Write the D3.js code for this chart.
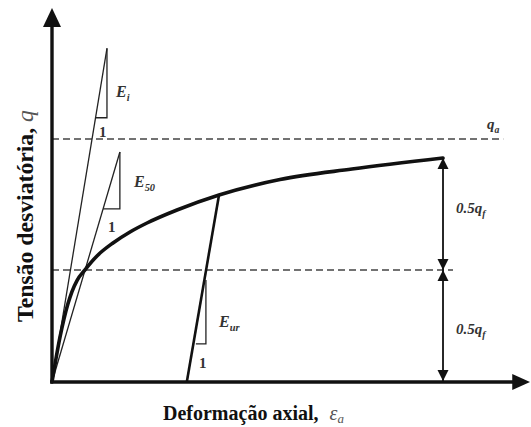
<!DOCTYPE html>
<html><head><meta charset="utf-8">
<script src="https://cdn.jsdelivr.net/npm/d3@7"></script>
<style>html,body{margin:0;padding:0;background:#fff;}svg{display:block;}</style>
</head><body>
<svg id="chart" width="531" height="427"></svg>
<script>
// ---- data (axial strain in arbitrary units, deviatoric stress in % of q_f) ----
const curveStrain = [0, 0.84, 1.67, 2.51, 3.35, 4.18, 5.23, 6.90, 9.41, 12.76, 16.32, 19.87, 26.15, 34.94, 47.70, 62.76, 81.80];
const curveStress = [0, 10.5, 20.0, 28.2, 35.0, 40.4, 45.3, 50.1, 56.3, 62.1, 67.0, 71.0, 76.8, 83.5, 90.4, 95.1, 100];
const qf = 100, qa = 108.5, halfQf = 50;
const dimX = 81.8;            // strain where the failure stress is reached
const qaLineEnd = 94.4, halfLineEnd = 83.9;
const EiLine = [[0, 0], [11.5, 149]];
const EiTri = [[9.2, 118], [11.5, 118], [11.5, 149]];
const E50Line = [[0, 0], [14.2, 102.7]];
const E50Tri = [[10.7, 77.3], [14.2, 77.3], [14.2, 102.7]];
const EurLine = [[28.2, 0], [34.94, 83.5]];
const EurTri = [[30.1, 17], [32.2, 17], [32.2, 45.5]];
const labels = {
  yTitle: "Tensão desviatória, ", ySym: "q",
  xTitle: "Deformação axial, ", xSym: "ε", xSub: "a"
};

const svg = d3.select("#chart");
const x = d3.scaleLinear().domain([0, 100]).range([52, 530]);
const y = d3.scaleLinear().domain([0, 167]).range([382, 8]);
const line = d3.line().x(d => x(d[0])).y(d => y(d[1]));
const serif = "'Liberation Serif', 'Times New Roman', 'DejaVu Serif', serif";
const ink = "#333";

// dashed reference lines
svg.append("path").attr("d", line([[0, qa], [qaLineEnd, qa]]))
  .attr("stroke", "#444").attr("stroke-width", 1.5).attr("stroke-dasharray", "7,4").attr("fill", "none");
svg.append("path").attr("d", line([[0, halfQf], [halfLineEnd, halfQf]]))
  .attr("stroke", "#444").attr("stroke-width", 1.5).attr("stroke-dasharray", "7,4").attr("fill", "none");

// thin modulus lines and triangles
[EiLine, EiTri, E50Line, E50Tri, EurTri].forEach(p => {
  svg.append("path").attr("d", line(p)).attr("stroke", "#222").attr("stroke-width", 1.3).attr("fill", "none");
});
svg.append("path").attr("d", line(EurLine)).attr("stroke", "#111").attr("stroke-width", 2.6).attr("fill", "none");

// stress-strain curve
const pts = curveStrain.map((e, i) => [e, curveStress[i]]);
svg.append("path").attr("d", d3.line().x(d => x(d[0])).y(d => y(d[1])).curve(d3.curveMonotoneX)(pts))
  .attr("stroke", "#111").attr("stroke-width", 3.6).attr("fill", "none").attr("stroke-linecap", "round");

// axes
svg.append("path").attr("d", line([[0, 0], [0, 159]])).attr("stroke", "#111").attr("stroke-width", 3.4).attr("fill", "none");
svg.append("path").attr("d", line([[-0.4, 0], [96.5, 0]])).attr("stroke", "#111").attr("stroke-width", 3.4).attr("fill", "none");
svg.append("path").attr("d", `M${x(0)},${y(167)} L${x(0) - 9},${y(159) + 1} L${x(0) + 9},${y(159) + 1} Z`).attr("fill", "#111");
svg.append("path").attr("d", `M${x(100)},${y(0)} L${x(96.5) - 1},${y(0) - 8} L${x(96.5) - 1},${y(0) + 8} Z`).attr("fill", "#111");

// dimension arrows
function arrowHead(px, py, dir) { // dir: -1 up, +1 down
  return `M${px},${py} L${px - 5.5},${py - dir * 11} L${px + 5.5},${py - dir * 11} Z`;
}
svg.append("path").attr("d", line([[dimX, qf], [dimX, 0]])).attr("stroke", "#111").attr("stroke-width", 1.8).attr("fill", "none");
svg.append("path").attr("d", arrowHead(x(dimX), y(qf), -1)).attr("fill", "#111");
svg.append("path").attr("d", arrowHead(x(dimX), y(halfQf), 1)).attr("fill", "#111");
svg.append("path").attr("d", arrowHead(x(dimX), y(halfQf), -1)).attr("fill", "#111");
svg.append("path").attr("d", arrowHead(x(dimX), y(0) - 1, 1)).attr("fill", "#111");

// symbol labels
function symLabel(px, py, main, sub, size) {
  const t = svg.append("text").attr("x", px).attr("y", py)
    .attr("font-family", serif).attr("font-style", "italic").attr("font-weight", "bold")
    .attr("font-size", size).attr("fill", ink);
  t.append("tspan").text(main);
  if (sub) t.append("tspan").attr("font-size", size * 0.65).attr("dy", 4).text(sub);
  return t;
}
symLabel(116, 97, "E", "i", 16);
symLabel(134, 187, "E", "50", 16);
symLabel(219, 327, "E", "ur", 16);
symLabel(487, 129, "q", "a", 15);
symLabel(456, 213, "0.5q", "f", 15);
symLabel(456, 334, "0.5q", "f", 15);
function oneLabel(px, py) {
  svg.append("text").attr("x", px).attr("y", py).attr("font-family", serif)
    .attr("font-weight", "bold").attr("font-size", 15).attr("fill", ink).text("1");
}
oneLabel(99, 137); oneLabel(108, 232); oneLabel(199, 368);

// axis titles
const xt = svg.append("text").attr("x", 163).attr("y", 420).attr("font-family", serif)
  .attr("font-size", 20).attr("font-weight", "bold").attr("fill", "#111");
xt.append("tspan").text(labels.xTitle);
xt.append("tspan").attr("font-style", "italic").attr("font-weight", "normal").attr("fill", "#555").attr("dx", 6).text(labels.xSym);
xt.append("tspan").attr("font-style", "italic").attr("font-weight", "normal").attr("fill", "#555").attr("font-size", 13).attr("dy", 3).text(labels.xSub);

const yt = svg.append("text").attr("transform", "translate(33,322) rotate(-90)")
  .attr("font-family", serif).attr("font-size", 22).attr("font-weight", "bold").attr("fill", "#111");
yt.append("tspan").text(labels.yTitle);
yt.append("tspan").attr("font-style", "italic").attr("font-weight", "normal").attr("fill", "#555").text(labels.ySym);
// fit the rotated title to the span it occupies in the reference (y 322 -> 110)
const len = yt.node().getComputedTextLength();
if (len > 0) yt.attr("font-size", 22 * 212 / len);
</script>
</body></html>
